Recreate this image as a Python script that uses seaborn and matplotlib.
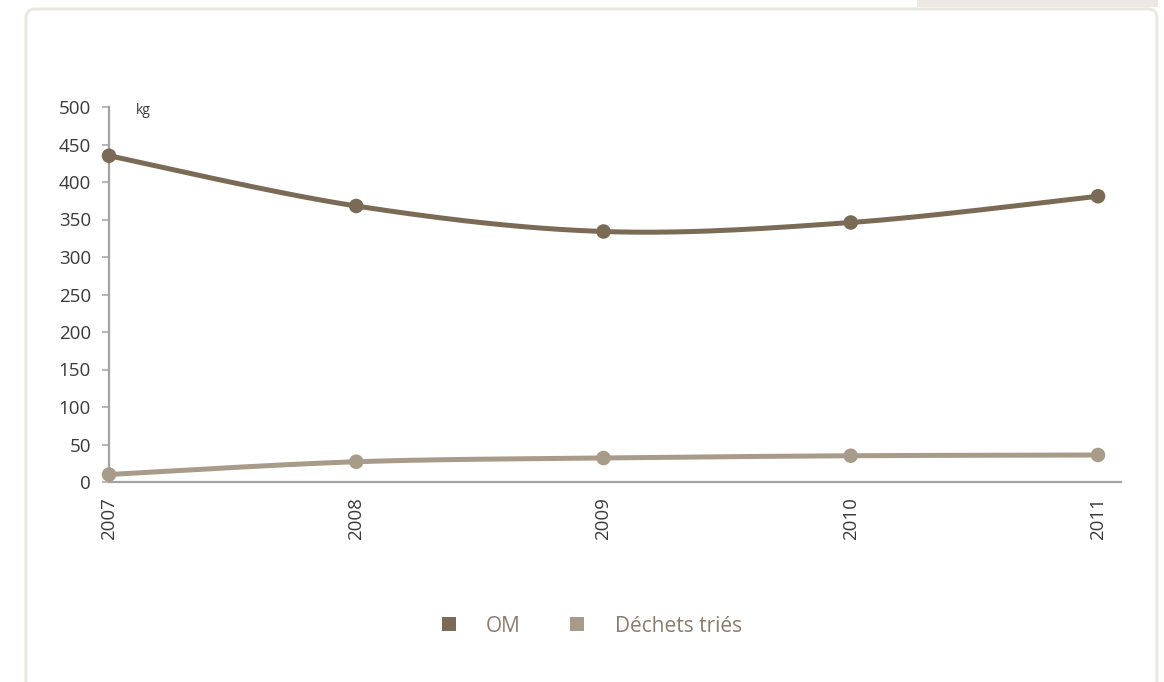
import numpy as np
import pandas as pd
import matplotlib
matplotlib.use("Agg")
import matplotlib.pyplot as plt
from matplotlib.lines import Line2D
from matplotlib.patches import FancyBboxPatch, Rectangle
from matplotlib.transforms import IdentityTransform
import seaborn as sns

# Data
years = [2007, 2008, 2009, 2010, 2011]
om = [435, 368, 334, 346, 381]
dechets_tries = [10, 27, 32, 35, 36]
series_names = ["OM", "Déchets triés"]
y_ticks = [0, 50, 100, 150, 200, 250, 300, 350, 400, 450, 500]

COL_OM = "#7b6b56"
COL_DT = "#a99b8a"
AXIS_GREY = "#a3a3a3"
TEXT = "#3a3a3a"
FRAME = "#ebe8e2"

sns.set_theme(style="white")
plt.rcParams["font.family"] = ["Open Sans", "DejaVu Sans"]


def smooth(xv, yv, n=40):
    """Catmull-Rom curve through the given points (smoothed line rendering)."""
    x = np.asarray(xv, float)
    y = np.asarray(yv, float)
    px = np.concatenate([[x[0]], x, [x[-1]]])
    py = np.concatenate([[y[0]], y, [y[-1]]])
    xs, ys = [], []
    t = np.linspace(0, 1, n)
    for i in range(1, len(px) - 2):
        for arr, out in ((px, xs), (py, ys)):
            p0, p1, p2, p3 = arr[i - 1], arr[i], arr[i + 1], arr[i + 2]
            out.extend(0.5 * ((2 * p1) + (-p0 + p2) * t
                              + (2 * p0 - 5 * p1 + 4 * p2 - p3) * t ** 2
                              + (-p0 + 3 * p1 - 3 * p2 + p3) * t ** 3))
    return np.array(xs), np.array(ys)


W, H = 1164, 682
fig = plt.figure(figsize=(W / 100, H / 100), dpi=100)
fig.patch.set_facecolor("white")

# Panel frame with rounded top-left corner and header tab
frame = FancyBboxPatch((26, -40), 1131, (H - 9) + 40,
                       boxstyle="round,pad=0,rounding_size=9",
                       transform=IdentityTransform(), fill=False,
                       edgecolor=FRAME, linewidth=2.2)
fig.add_artist(frame)
fig.add_artist(Rectangle((917, H - 7), 241, 8, transform=IdentityTransform(),
                         facecolor="#ece9e4", edgecolor="none"))

ax = fig.add_axes([109 / W, 1 - 482 / H, (1121 - 109) / W, (482 - 107) / H])
ax.set_facecolor("none")

for vals, col in ((om, COL_OM), (dechets_tries, COL_DT)):
    sx, sy = smooth(years, vals)
    sns.lineplot(x=sx, y=sy, ax=ax, color=col, linewidth=3.6, sort=False,
                 estimator=None)
    sns.scatterplot(x=years, y=vals, ax=ax, color=col, s=110,
                    edgecolor="none", clip_on=False, zorder=3)

ax.set_xlim(2007, 2007 + 4 * (1121 - 109) / (1098 - 109))
ax.set_ylim(0, 500)
ax.set_xticks(years)
ax.set_xticklabels([str(y) for y in years], rotation=90, color=TEXT,
                   fontsize=13.5, va="top")
ax.set_yticks(y_ticks)
ax.set_yticklabels([str(v) for v in y_ticks], color=TEXT, fontsize=13.5)
ax.tick_params(axis="x", length=0, pad=11)
ax.tick_params(axis="y", length=5, width=1.1, color=AXIS_GREY, pad=8,
               direction="out", left=True)
for side in ("top", "right"):
    ax.spines[side].set_visible(False)
for side in ("left", "bottom"):
    ax.spines[side].set_color(AXIS_GREY)
    ax.spines[side].set_linewidth(1.6)
ax.set_xlabel("")
ax.set_ylabel("")

fig.text(136 / W, 1 - 110 / H, "kg", fontsize=10, color=TEXT, va="center",
         ha="left")

handles = [Line2D([], [], marker="s", linestyle="", markersize=9.5,
                  color=c, markeredgewidth=0) for c in (COL_OM, COL_DT)]
fig.legend(handles, series_names, loc="center", ncol=2,
           bbox_to_anchor=(590 / W, 1 - 626 / H), frameon=False,
           fontsize=15, labelcolor="#8a7b6a", handletextpad=1.3,
           columnspacing=2.2, handlelength=1.0)

fig.savefig("out.png", dpi=100, facecolor="white")
